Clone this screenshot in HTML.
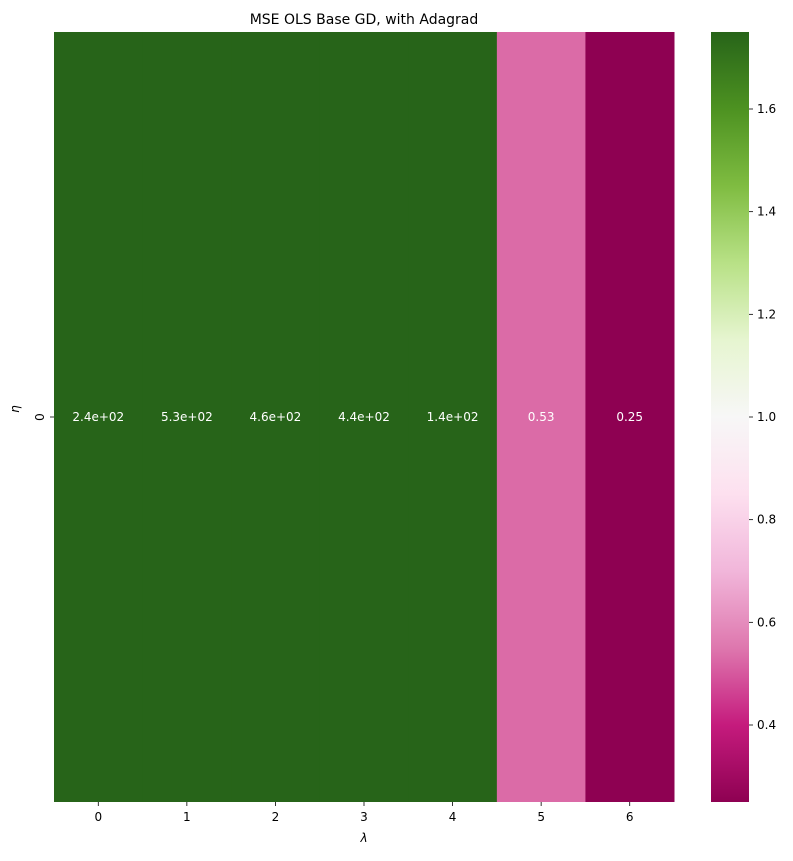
<!DOCTYPE html>
<html><head><meta charset="utf-8">
<style>
body{margin:0;background:#fff;font-family:"Liberation Sans","DejaVu Sans",sans-serif;}
svg text{font-family:"DejaVu Sans","Liberation Sans",sans-serif;}
</style></head>
<body>
<svg id="chart" width="793" height="856" xmlns="http://www.w3.org/2000/svg">
<defs><linearGradient id="cbgrad" x1="0" y1="1" x2="0" y2="0"></linearGradient></defs>
<text x="364" y="24" font-size="14" text-anchor="middle" fill="#000">MSE OLS Base GD, with Adagrad</text>
<g id="cells"></g>
<g id="xticks"></g>
<g id="yticks"></g>
<text x="364" y="842" font-size="12" text-anchor="middle" font-style="italic">λ</text>
<text x="19" y="409" font-size="12" text-anchor="middle" font-style="italic" transform="rotate(-90 19 409)">η</text>
<rect x="711" y="32" width="38" height="770" fill="url(#cbgrad)"/>
<g id="cbticks"></g>
</svg>
<script>
const categories = [0,1,2,3,4,5,6];
const rowLabels = [0];
const values = [240, 530, 460, 440, 140, 0.53, 0.25];
const cellLabels = ["2.4e+02","5.3e+02","4.6e+02","4.4e+02","1.4e+02","0.53","0.25"];
const cbTicks = [0.4,0.6,0.8,1.0,1.2,1.4,1.6];
const cbTickLabels = ["0.4","0.6","0.8","1.0","1.2","1.4","1.6"];
const vmin = 0.25, vmax = 1.75;

const NS="http://www.w3.org/2000/svg";
const stops=[[0,[142,1,82]],[0.1,[197,27,125]],[0.2,[222,119,174]],[0.3,[241,182,218]],[0.4,[253,224,239]],[0.5,[247,247,247]],[0.6,[230,245,208]],[0.7,[184,225,134]],[0.8,[127,188,65]],[0.9,[77,146,33]],[1,[39,100,25]]];
function cmap(t){t=Math.max(0,Math.min(1,t));for(let i=1;i<stops.length;i++){if(t<=stops[i][0]){const a=stops[i-1],b=stops[i];const f=(t-a[0])/(b[0]-a[0]);const c=a[1].map((v,k)=>Math.round(v+(b[1][k]-v)*f));return `rgb(${c.join(',')})`;}}return 'rgb(39,100,25)';}
const X0=54,X1=674,Y0=32,Y1=802;
const cw=(X1-X0)/categories.length, ch=(Y1-Y0)/rowLabels.length;
const xPos=i=>X0+i*cw, yPos=j=>Y0+j*ch;
const cbY=v=>Y1-(v-vmin)/(vmax-vmin)*(Y1-Y0);
function mk(tag,attrs,parent){const e=document.createElementNS(NS,tag);for(const k in attrs)e.setAttribute(k,attrs[k]);parent.appendChild(e);return e;}
const cells=document.getElementById('cells');
values.forEach((v,i)=>{
  const r=mk('rect',{x:xPos(i),y:yPos(0),width:cw+0.5,height:ch,fill:cmap((v-vmin)/(vmax-vmin))},cells);
  
  
  const t=mk('text',{x:xPos(i)+cw/2,y:yPos(0)+ch/2+4,'font-size':12,'text-anchor':'middle',fill:'#fff'},cells);
  t.textContent=cellLabels[i];
  
  
});
const xt=document.getElementById('xticks');
categories.forEach((c,i)=>{
  const x=xPos(i)+cw/2;
  mk('line',{x1:x,x2:x,y1:Y1,y2:Y1+4,stroke:'#000','stroke-width':0.8},xt);
  const t=mk('text',{x:x,y:Y1+19,'font-size':12,'text-anchor':'middle'},xt);
  t.textContent=c;
  
  
});
const yt=document.getElementById('yticks');
rowLabels.forEach((r,j)=>{
  const y=yPos(j)+ch/2;
  mk('line',{x1:X0-4,x2:X0,y1:y,y2:y,stroke:'#000','stroke-width':0.8},yt);
  const t=mk('text',{x:40,y:y,'font-size':12,'text-anchor':'middle',transform:`rotate(-90 40 ${y})`},yt);
  t.setAttribute('dy','4');
  t.textContent=r;
  
  
});
const g=document.getElementById('cbgrad');
for(let i=0;i<=20;i++){mk('stop',{offset:i/20,'stop-color':cmap(i/20)},g);}
const cbt=document.getElementById('cbticks');
cbTicks.forEach((v,i)=>{
  const y=cbY(v);
  mk('line',{x1:749,x2:753,y1:y,y2:y,stroke:'#000','stroke-width':0.8},cbt);
  const t=mk('text',{x:757,y:y+4,'font-size':12},cbt);
  t.textContent=cbTickLabels[i];
  
  
});
</script>
</body></html>
